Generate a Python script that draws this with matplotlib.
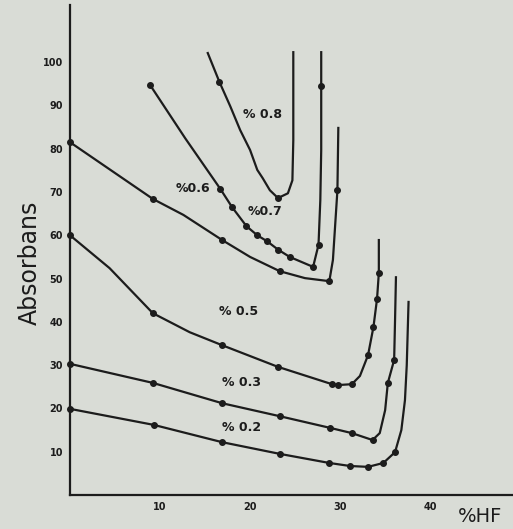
import matplotlib.pyplot as plt

# values (x = % HF, y = absorbans)
# "line" arrays trace the hand-drawn curve, "pts" arrays are the plotted dots
x_02_line = [0, 9.3, 16.9, 23.3, 28.8, 31.1, 33.1, 34.8, 36.1, 36.8, 37.2, 37.4, 37.6]
y_02_line = [19.9, 16.2, 12.2, 9.5, 7.4, 6.7, 6.5, 7.4, 9.9, 15.0, 21.9, 30.0, 44.6]
x_02_pts = [0, 9.3, 16.9, 23.3, 28.8, 31.1, 33.1, 34.8, 36.1]
y_02_pts = [19.9, 16.2, 12.2, 9.5, 7.4, 6.7, 6.5, 7.4, 9.9]

x_03_line = [0, 9.2, 16.9, 23.3, 28.9, 31.3, 33.6, 34.4, 35.0, 35.3, 36.0, 36.1, 36.2]
y_03_line = [30.3, 25.9, 21.2, 18.2, 15.5, 14.3, 12.7, 14.3, 19.6, 25.9, 31.2, 40.4, 50.3]
x_03_pts = [0, 9.2, 16.9, 23.3, 28.9, 31.3, 33.6, 35.3, 36.0]
y_03_pts = [30.3, 25.9, 21.2, 18.2, 15.5, 14.3, 12.7, 25.9, 31.2]

x_05_line = [0, 4.4, 9.2, 13.3, 16.9, 23.1, 29.1, 29.8, 31.3, 32.2, 33.1, 33.7, 34.1, 34.3, 34.3]
y_05_line = [60.0, 52.4, 42.0, 37.6, 34.6, 29.6, 25.6, 25.4, 25.6, 27.5, 32.3, 38.8, 45.3, 51.3, 58.9]
x_05_pts = [0, 9.2, 16.9, 23.1, 29.1, 29.8, 31.3, 33.1, 33.7, 34.1, 34.3]
y_05_pts = [60.0, 42.0, 34.6, 29.6, 25.6, 25.4, 25.6, 32.3, 38.8, 45.3, 51.3]

x_06_line = [0, 9.2, 12.6, 16.9, 20.0, 23.3, 26.1, 28.8, 29.2, 29.7, 29.8]
y_06_line = [81.5, 68.4, 64.7, 58.9, 55.0, 51.7, 50.1, 49.4, 54.3, 70.4, 84.8]
x_06_pts = [0, 9.2, 16.9, 23.3, 28.8, 29.7]
y_06_pts = [81.5, 68.4, 58.9, 51.7, 49.4, 70.4]

x_07_line = [8.9, 12.8, 16.7, 18.0, 19.6, 20.8, 21.9, 23.1, 24.4, 27.0, 27.6, 27.8, 27.9, 27.9, 27.9]
y_07_line = [94.7, 82.4, 70.7, 66.5, 62.1, 60.0, 58.6, 56.7, 55.0, 52.7, 57.8, 68.1, 79.7, 94.5, 102.3]
x_07_pts = [8.9, 16.7, 18.0, 19.6, 20.8, 21.9, 23.1, 24.4, 27.0, 27.6, 27.9]
y_07_pts = [94.7, 70.7, 66.5, 62.1, 60.0, 58.6, 56.7, 55.0, 52.7, 57.8, 94.5]

x_08_line = [15.3, 16.6, 17.8, 18.9, 20.0, 20.8, 21.4, 22.2, 23.1, 24.2, 24.7, 24.8, 24.8]
y_08_line = [102.1, 95.4, 89.8, 84.3, 79.7, 75.1, 73.2, 70.4, 68.6, 69.7, 72.7, 82.0, 102.3]
x_08_pts = [16.6, 23.1]
y_08_pts = [95.4, 68.6]

curve_labels = ['% 0.2', '% 0.3', '% 0.5', '%0.6', '%0.7', '% 0.8']
label_x = [19.1, 19.1, 18.7, 13.7, 21.7, 21.4]
label_y = [15.5, 26.1, 42.3, 70.9, 65.4, 87.8]

x_ticks = [10, 20, 30, 40]
y_ticks = [10, 20, 30, 40, 50, 60, 70, 80, 90, 100]

ink = '#1c1c1c'
paper = '#d9dcd6'

fig = plt.figure(figsize=(5.13, 5.29), dpi=100, facecolor=paper)
ax = fig.add_axes([70 / 513, 34 / 529, 1 - 70 / 513, 1 - 34 / 529 - 5 / 529])
ax.set_facecolor(paper)

lines = [(x_02_line, y_02_line, x_02_pts, y_02_pts),
         (x_03_line, y_03_line, x_03_pts, y_03_pts),
         (x_05_line, y_05_line, x_05_pts, y_05_pts),
         (x_06_line, y_06_line, x_06_pts, y_06_pts),
         (x_07_line, y_07_line, x_07_pts, y_07_pts),
         (x_08_line, y_08_line, x_08_pts, y_08_pts)]
for xl, yl, xp, yp in lines:
    ax.plot(xl, yl, color=ink, lw=1.6, solid_joinstyle='round')
    ax.plot(xp, yp, 'o', color=ink, ms=4, clip_on=False)

for i, lab in enumerate(curve_labels):
    ax.text(label_x[i], label_y[i], lab, fontsize=9, fontweight='bold',
            color=ink, ha='center', va='center')

ax.set_xlim(0, 49.2)
ax.set_ylim(0, 113.2)
ax.set_xticks(x_ticks)
ax.set_yticks(y_ticks)
ax.tick_params(length=0, labelsize=7, colors=ink, pad=5)
for t in ax.get_xticklabels() + ax.get_yticklabels():
    t.set_fontweight('bold')
for s in ['top', 'right']:
    ax.spines[s].set_visible(False)
for s in ['left', 'bottom']:
    ax.spines[s].set_color(ink)
    ax.spines[s].set_linewidth(1.6)

fig.text(30 / 513, 1 - 263 / 529, 'Absorbans', fontsize=17, color=ink,
         rotation=90, ha='center', va='center')
fig.text(458 / 513, 1 - 516 / 529, '%HF', fontsize=14, color=ink,
         ha='left', va='center')

fig.savefig('out.png', dpi=100, facecolor=paper)
